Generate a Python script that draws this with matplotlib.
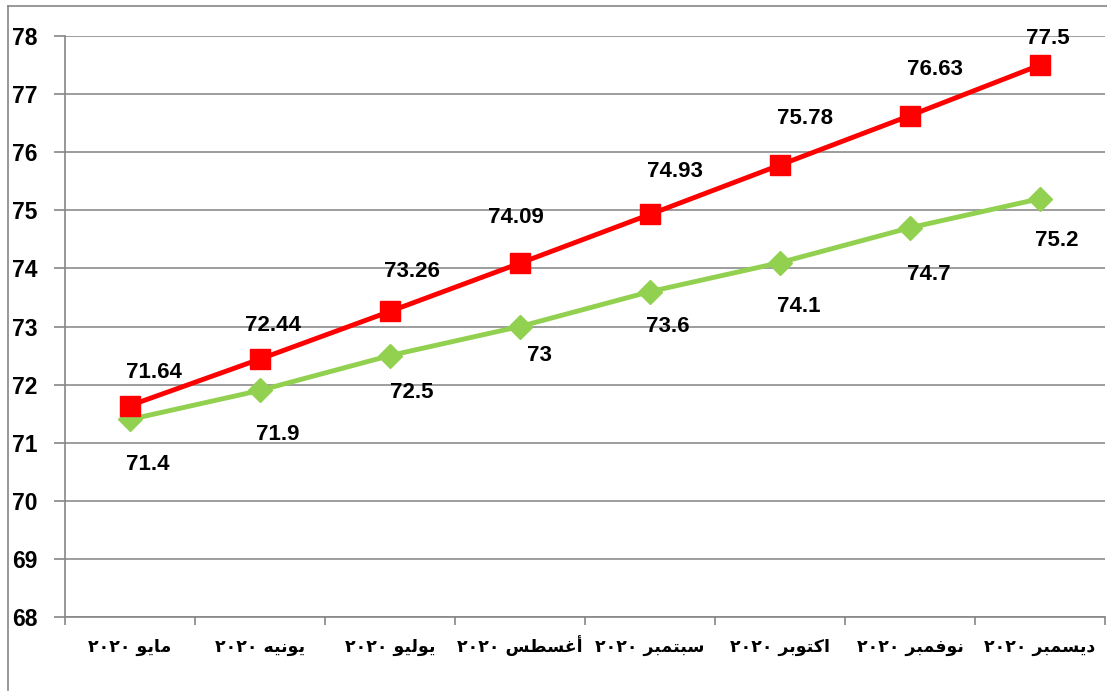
import matplotlib
matplotlib.use('Agg')
import matplotlib.pyplot as plt
from matplotlib.lines import Line2D
from matplotlib.ticker import FixedLocator

# data
months = ['مايو', 'يونيه', 'يوليو', 'أغسطس', 'سبتمبر', 'اكتوبر', 'نوفمبر', 'ديسمبر']
year = '٢٠٢٠'
red_vals = [71.64, 72.44, 73.26, 74.09, 74.93, 75.78, 76.63, 77.5]
green_vals = [71.4, 71.9, 72.5, 73, 73.6, 74.1, 74.7, 75.2]
red_text = ['71.64', '72.44', '73.26', '74.09', '74.93', '75.78', '76.63', '77.5']
green_text = ['71.4', '71.9', '72.5', '73', '73.6', '74.1', '74.7', '75.2']
y_ticks = [68, 69, 70, 71, 72, 73, 74, 75, 76, 77, 78]

# label offsets in pixels (dx, dy) relative to each point
red_off = [(24, 33), (13, 34), (22, 40), (-4, 46), (25, 43), (25, 46), (25, 46), (8, 27)]
green_off = [(18, -45), (18, -44), (22, -37), (19, -29), (18, -35), (19, -44), (19, -47), (17, -42)]

# simple arabic shaping (matplotlib has no complex text layout)
FORMS = {
    'ا': ('\uFE8D', '\uFE8E', None, None),
    'أ': ('\uFE83', '\uFE84', None, None),
    'د': ('\uFEA9', '\uFEAA', None, None),
    'ر': ('\uFEAD', '\uFEAE', None, None),
    'و': ('\uFEED', '\uFEEE', None, None),
    'ب': ('\uFE8F', '\uFE90', '\uFE91', '\uFE92'),
    'ت': ('\uFE95', '\uFE96', '\uFE97', '\uFE98'),
    'س': ('\uFEB1', '\uFEB2', '\uFEB3', '\uFEB4'),
    'ط': ('\uFEC1', '\uFEC2', '\uFEC3', '\uFEC4'),
    'غ': ('\uFECD', '\uFECE', '\uFECF', '\uFED0'),
    'ف': ('\uFED1', '\uFED2', '\uFED3', '\uFED4'),
    'ك': ('\uFED9', '\uFEDA', '\uFEDB', '\uFEDC'),
    'ل': ('\uFEDD', '\uFEDE', '\uFEDF', '\uFEE0'),
    'م': ('\uFEE1', '\uFEE2', '\uFEE3', '\uFEE4'),
    'ن': ('\uFEE5', '\uFEE6', '\uFEE7', '\uFEE8'),
    'ه': ('\uFEE9', '\uFEEA', '\uFEEB', '\uFEEC'),
    'ي': ('\uFEF1', '\uFEF2', '\uFEF3', '\uFEF4'),
}


def shape(word):
    out = []
    for i, c in enumerate(word):
        f = FORMS[c]
        prev = word[i - 1] if i > 0 else None
        nxt = word[i + 1] if i + 1 < len(word) else None
        jp = prev in FORMS and FORMS[prev][2] is not None
        jn = f[2] is not None and nxt in FORMS
        if jp and jn:
            out.append(f[3])
        elif jp:
            out.append(f[1])
        elif jn:
            out.append(f[2])
        else:
            out.append(f[0])
    return ''.join(reversed(out))


labels = [year + ' ' + shape(m) for m in months]
x = list(range(len(months)))

W, H = 1107, 693
fig = plt.figure(figsize=(W / 100, H / 100), dpi=100)
ax = fig.add_axes([65 / W, 1 - 617 / H, (1105 - 65) / W, (617 - 36) / H])

num_font = ['Liberation Sans', 'DejaVu Sans']
gray = '#868686'

ax.plot(x, red_vals, color='#FF0000', lw=3.5, marker='s', ms=14, zorder=4)
ax.plot(x, green_vals, color='#92D050', lw=3.5, marker='D', ms=12, zorder=3)

for xi, v, t, (dx, dy) in zip(x, red_vals, red_text, red_off):
    ax.annotate(t, (xi, v), xytext=(dx * 0.72, dy * 0.72), textcoords='offset points',
                ha='center', va='center', fontsize=16, fontweight='bold', family=num_font)
for xi, v, t, (dx, dy) in zip(x, green_vals, green_text, green_off):
    ax.annotate(t, (xi, v), xytext=(dx * 0.72, dy * 0.72), textcoords='offset points',
                ha='center', va='center', fontsize=16, fontweight='bold', family=num_font)

ax.set_xlim(-0.5, len(months) - 0.5)
ax.set_ylim(68, 78)
ax.set_yticks(y_ticks)
ax.set_yticklabels([str(v) for v in y_ticks], fontsize=16.5, fontweight='bold', family=num_font)
ax.grid(axis='y', color='#8c8c8c', lw=1.2)
ax.set_axisbelow(True)

ax.set_xticks(x)
ax.set_xticklabels(labels, fontsize=12.5, fontweight='bold', family=['DejaVu Sans'], va='baseline')
ax.xaxis.set_minor_locator(FixedLocator([i - 0.5 for i in range(len(months) + 1)]))
ax.tick_params(axis='x', which='major', length=0, pad=25)
ax.tick_params(axis='x', which='minor', length=6, color=gray, width=1.2)
ax.tick_params(axis='y', length=8, color=gray, width=1.2, pad=12)

for s in ['top', 'right']:
    ax.spines[s].set_visible(False)
for s in ['left', 'bottom']:
    ax.spines[s].set_color(gray)
    ax.spines[s].set_linewidth(1.2)

# outer chart border
fig.add_artist(Line2D([8 / W, 8 / W], [1 - 6 / H, 3 / H], color=gray, lw=1.2, transform=fig.transFigure))
fig.add_artist(Line2D([8 / W, 1], [1 - 6 / H, 1 - 6 / H], color=gray, lw=1.2, transform=fig.transFigure))

fig.savefig('out.png', dpi=100)
